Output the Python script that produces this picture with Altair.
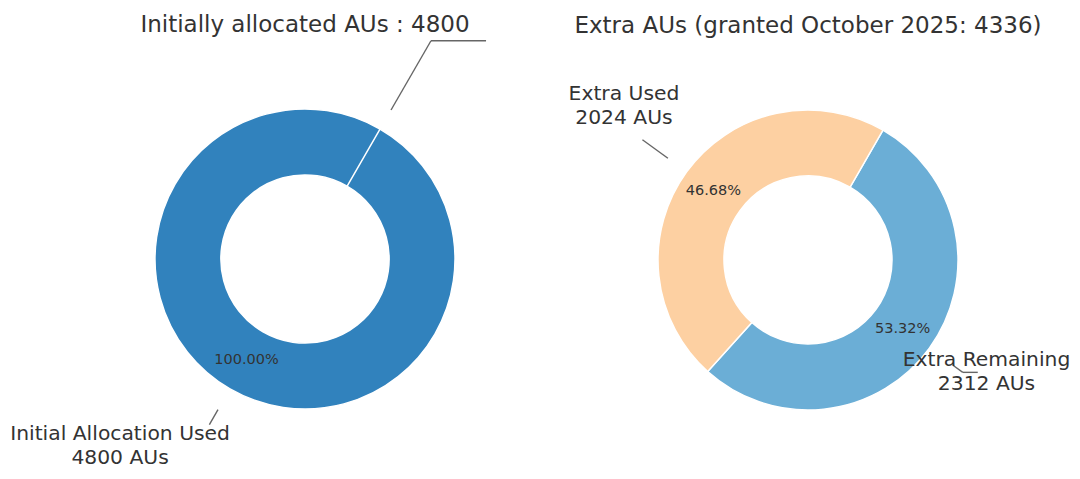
import math
import altair as alt
import pandas as pd

# ---------------- data ----------------
left_title = "Initially allocated AUs : 4800"
left_categories = ["Initial Allocation Used", "Initial Remaining"]
left_values = [4800, 0]

right_title = "Extra AUs (granted October 2025: 4336)"
right_categories = ["Extra Remaining", "Extra Used"]
right_values = [2312, 2024]

# ---------------- styling / layout ----------------
left_colors = ["#3182bd", "#3182bd"]
right_colors = ["#6baed6", "#fdd0a2"]
FONT = "DejaVu Sans"
TEXT_COLOR = "#333333"
R_OUT = 150
R_IN = 84
START = math.pi / 6  # 30 degrees clockwise from 12 o'clock

W, H = 1064, 463
CX_L, CY = 297, 251           # pixel centres inside plot
CX_R = 800
UNIT = 150.0
XDOM = [-CX_L / UNIT, (W - CX_L) / UNIT]
YDOM = [-(H - CY) / UNIT, CY / UNIT]
cxl, cxr = 0.0, (CX_R - CX_L) / UNIT
cyl, cyr = 0.0, -1.0 / UNIT

# per-slice leader / label layout (units of outer radius); ly = first text line
left_layout = [
    dict(r0=1.16, r1=1.275, hx=0.0, lx=-1.233, ly=-1.167, show=True),
    dict(r0=1.147, r1=1.68, hx=0.367, lx=0, ly=0, show=False),
]
right_layout = [
    dict(r0=1.197, r1=1.275, hx=0.10, lx=1.19, ly=-0.667, show=True),
    dict(r0=1.154, r1=1.364, hx=0.0, lx=-1.227, ly=1.107, show=True),
]


def build(cats, vals, layout, cx, cy):
    total = sum(vals)
    arcs, pcts, labels, lines = [], [], [], []
    cum = 0.0
    for i, (c, v, lay) in enumerate(zip(cats, vals, layout)):
        arcs.append(dict(cat=c, value=v, idx=i, cx=cx, cy=cy))
        a0 = START + 2 * math.pi * cum / total
        cum += v
        a1 = START + 2 * math.pi * cum / total
        mid = (a0 + a1) / 2
        sx, sy = math.sin(mid), math.cos(mid)
        if v > 0:
            pcts.append(dict(x=cx + 0.78 * sx, y=cy + 0.78 * sy,
                             t=f"{100 * v / total:.2f}%"))
        if lay["show"]:
            labels.append(dict(x=cx + lay["lx"], y=cy + lay["ly"],
                               t=f"{c}\n{v} AUs"))
        x0, y0 = cx + lay["r0"] * sx, cy + lay["r0"] * sy
        x1, y1 = cx + lay["r1"] * sx, cy + lay["r1"] * sy
        lines.append(dict(x=x0, y=y0, x2=x1, y2=y1))
        if lay["hx"] != 0:
            lines.append(dict(x=x1, y=y1, x2=x1 + lay["hx"] * (1 if sx > 0 else -1), y2=y1))
    return pd.DataFrame(arcs), pd.DataFrame(pcts), pd.DataFrame(labels), pd.DataFrame(lines)


xs = alt.Scale(domain=XDOM, nice=False, zero=False)
ys = alt.Scale(domain=YDOM, nice=False, zero=False)
X = lambda f: alt.X(f, type="quantitative", scale=xs, axis=None)
Y = lambda f: alt.Y(f, type="quantitative", scale=ys, axis=None)


def donut(cats, vals, colors, layout, cx, cy, title):
    arcs, pcts, labels, lines = build(cats, vals, layout, cx, cy)
    arc = alt.Chart(arcs).mark_arc(
        outerRadius=R_OUT, innerRadius=R_IN, stroke="white", strokeWidth=1.5
    ).encode(
        x=X("cx"), y=Y("cy"),
        theta=alt.Theta("value:Q", stack=True,
                        scale=alt.Scale(range=[START, START + 2 * math.pi])),
        order=alt.Order("idx:Q"),
        color=alt.Color("cat:N", scale=alt.Scale(domain=cats, range=colors), legend=None),
    )
    pct = alt.Chart(pcts).mark_text(font=FONT, fontSize=14.5, color=TEXT_COLOR).encode(
        x=X("x"), y=Y("y"), text="t:N")
    lab = alt.Chart(labels).mark_text(
        font=FONT, fontSize=20.3, color=TEXT_COLOR, lineBreak="\n", lineHeight=24,
        align="center", baseline="middle"
    ).encode(x=X("x"), y=Y("y"), text="t:N")
    rule = alt.Chart(lines).mark_rule(color="#666666", strokeWidth=1.4).encode(
        x=X("x"), y=Y("y"), x2="x2:Q", y2="y2:Q")
    ttl = alt.Chart(pd.DataFrame([dict(x=cx, y=cy + 1.56, t=title)])).mark_text(
        font=FONT, fontSize=23, color=TEXT_COLOR, align="center", baseline="middle"
    ).encode(x=X("x"), y=Y("y"), text="t:N")
    return alt.layer(arc, rule, pct, lab, ttl).resolve_scale(theta="independent", color="independent")


left = donut(left_categories, left_values, left_colors, left_layout, cxl, cyl, left_title)
right = donut(right_categories, right_values, right_colors, right_layout, cxr, cyr, right_title)

chart = alt.layer(left, right).resolve_scale(
    theta="independent", color="independent"
).properties(
    width=W, height=H, autosize=alt.AutoSizeParams(type="none"), padding=0,
    background="white"
).configure_view(stroke=None)

chart.save("out.html", embed_options={"renderer": "svg", "actions": False})
